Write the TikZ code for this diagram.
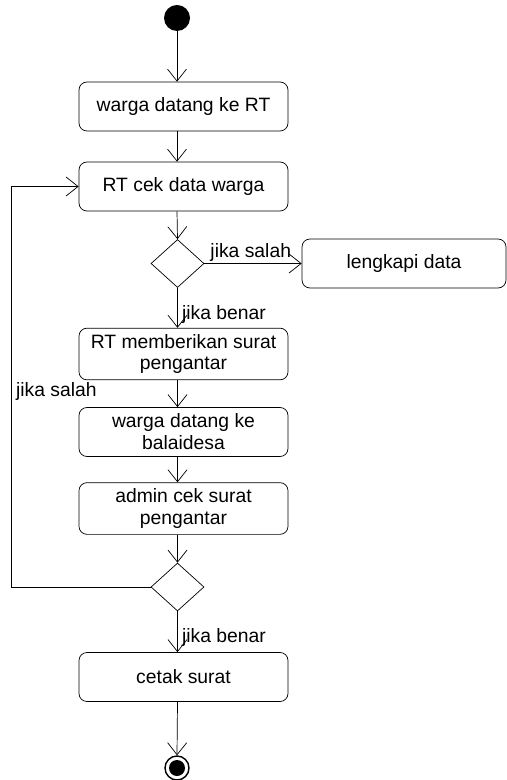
\documentclass[tikz,border=0pt]{standalone}
\usepackage{fontspec}
\setmainfont{Liberation Sans}
\usepackage{tikz}
\usetikzlibrary{arrows.meta}
\usetikzlibrary{shapes}
\tikzset{activity/.style={draw, rounded corners=0.16cm, minimum width=4.18cm,
   minimum height=0.98cm, align=center, font=\fontsize{11}{12.5}\selectfont},
 decision/.style={draw, diamond, inner sep=0pt, minimum width=1.06cm, minimum height=0.96cm},
 flow/.style={draw, -{Straight Barb[length=2.4mm, width=3.8mm]}},
 guard/.style={font=\fontsize{11}{12.5}\selectfont, inner sep=1pt},
 }

\begin{document}
\begin{tikzpicture}
        \useasboundingbox (0, 0) rectangle (10.14, -15.6);

        \node[circle, fill=black, minimum size=0.52cm, inner sep=0pt] (start) at (3.54, -0.36) {};
        \node[activity] (datang) at (3.67, -2.13) {warga datang ke RT};
        \node[activity] (cek) at (3.67, -3.73) {RT cek data warga};
        \node[decision] (cabang1) at (3.55, -5.27) {};
        \node[activity, minimum width=4.08cm] (lengkapi) at (8.08, -5.27) {lengkapi data};
        \node[activity] (pengantar) at (3.67, -7.08) {RT memberikan surat\\pengantar};
        \node[activity] (balai) at (3.67, -8.64) {warga datang ke\\balaidesa};
        \node[activity] (admin) at (3.67, -10.17) {admin cek surat\\pengantar};
        \node[decision] (cabang2) at (3.55, -11.74) {};
        \node[activity] (cetak) at (3.67, -13.54) {cetak surat};
        \node[circle, draw, thick, minimum size=0.48cm, inner sep=0pt] (akhir) at (3.54, -15.36) {};
        \fill (akhir) circle (0.16);

        \coordinate (kiri1) at (0.22, -11.74);
        \coordinate (kiri2) at (0.22, -3.73);

        \draw[flow] (start) -- (start |- datang.north);
        \draw[flow] (start |- datang.south) -- (start |- cek.north);
        \draw[flow] (start |- cek.south) -- (cabang1.north);
        \draw[flow] (cabang1.east) -- (lengkapi.west);
        \draw[flow] (cabang1.south) -- (cabang1 |- pengantar.north);
        \draw[flow] (cabang1 |- pengantar.south) -- (cabang1 |- balai.north);
        \draw[flow] (cabang1 |- balai.south) -- (cabang1 |- admin.north);
        \draw[flow] (cabang1 |- admin.south) -- (cabang2.north);
        \draw[flow] (cabang2.south) -- (cabang2 |- cetak.north);
        \draw[flow] (cabang2 |- cetak.south) -- (akhir.north);
        \draw[flow] (cabang2.west) -- (kiri1) -- (kiri2) -- (cek.west);

        \node[guard, anchor=south west] (salah1) at ([xshift=0.08cm]cabang1.east) {jika salah};
        \node[guard, anchor=west] (benar1) at (3.6, -6.3) {jika benar};
        \node[guard, anchor=west] (salah2) at (0.28, -7.84) {jika salah};
        \node[guard, anchor=west] (benar2) at (3.6, -12.74) {jika benar};
    \end{tikzpicture}
\end{document}
